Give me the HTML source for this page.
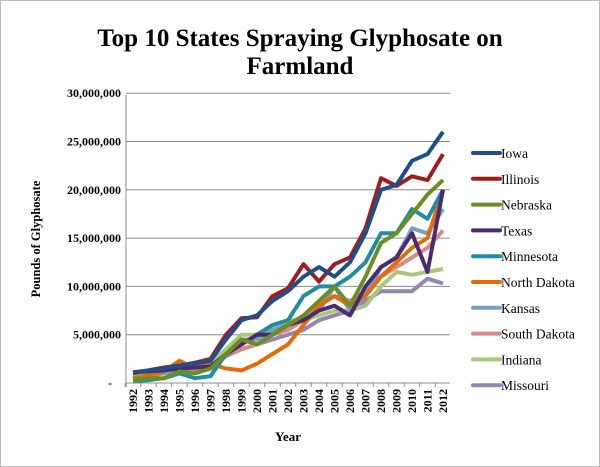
<!DOCTYPE html>
<html><head><meta charset="utf-8"><style>
body{margin:0;background:#fff;}
svg{display:block;font-family:"Liberation Serif",serif;}
</style></head><body>
<svg id="c" width="600" height="467" viewBox="0 0 600 467" xmlns="http://www.w3.org/2000/svg">
<rect x="0.5" y="0.5" width="599" height="466" fill="#fff" stroke="#bbb"/>
<text x="300" y="46" text-anchor="middle" font-size="25" font-weight="bold">Top 10 States Spraying Glyphosate on</text>
<text x="300" y="74" text-anchor="middle" font-size="25" font-weight="bold">Farmland</text>
<text transform="translate(40,239) rotate(-90)" text-anchor="middle" font-size="12.5" font-weight="bold">Pounds of Glyphosate</text>
<text x="288" y="441" text-anchor="middle" font-size="13" font-weight="bold">Year</text>
<g id="g"></g>
</svg>
<script>
var g=document.getElementById('g'),ns='http://www.w3.org/2000/svg',h='';
var y0=383,pp=48.3/5,x0=133,dx=15.5;
for(var i=0;i<=6;i++){var y=y0-i*48.3;
 if(i>0)h+='<line x1="126" x2="450" y1="'+y+'" y2="'+y+'" stroke="#8c8c8c" stroke-width="1"/>';
 var lab=i==0?'-':(i*5)+',000,000';
 h+='<text x="'+(i==0?112:121)+'" y="'+(y+4)+'" text-anchor="end" font-size="12" font-weight="bold">'+lab+'</text>';}
h+='<line x1="126" x2="126" y1="95" y2="387" stroke="#8c8c8c"/><line x1="126" x2="450" y1="383" y2="383" stroke="#8c8c8c"/>';
for(var k=0;k<21;k++){var x=x0+k*dx;
 h+='<line x1="'+(x-dx/2)+'" x2="'+(x-dx/2)+'" y1="383" y2="387" stroke="#8c8c8c"/>';
 h+='<text transform="translate('+(x+4)+',389) rotate(-90)" text-anchor="end" font-size="12" font-weight="bold">'+(1992+k)+'</text>';}
var S=[
['Iowa','#1f4e8c',[1.0,1.3,1.5,1.8,2.0,2.3,4.5,6.5,7.0,8.5,9.5,11,12,11,12.5,15.5,20,20.5,23,23.7,26]],
['Illinois','#a01d1d',[1.1,1.3,1.6,1.8,2.1,2.5,5,6.7,6.8,9,9.8,12.3,10.5,12.3,13,16,21.2,20.4,21.4,21,23.7]],
['Nebraska','#6a8e23',[0.3,0.5,0.5,1.2,1,1.5,3,4.5,4,5,6,7,8.5,10,8,11,14.5,15.5,17.5,19.5,21]],
['Texas','#4b2a6e',[1.1,1.2,1.3,1.5,1.6,1.7,3,4,5,5,6,6.5,7.5,8,7,10,12,13,15.5,11.5,20]],
['Minnesota','#1f8ea0',[0.2,0.3,0.5,1,0.5,0.7,3,4,5,6,6.5,9,10,10,11,12.5,15.5,15.5,18,17,20]],
['North Dakota','#e36c0a',[0.5,0.8,1.2,2.3,1.5,2,1.5,1.3,2,3,4,6,8,9,8,9,11,12.5,14,15,20]],
['Kansas','#7a9cc8',[0.5,0.7,1,1.3,1,1.5,3,4.5,4.5,5.5,6,6.5,7.5,10,7.5,9,12,13,16,15.5,18]],
['South Dakota','#d98a86',[0.5,0.7,1,1.5,1.3,1.7,3,3.5,4,5,5.5,6.5,8.5,9,8.5,9.5,11,12,13,14,15.8]],
['Indiana','#a8c97c',[0.7,1,1.2,1.5,1.5,2,3.5,5,5,5.5,6.5,6.5,7,7.5,7.5,8,10,11.5,11.2,11.5,11.8]],
['Missouri','#9385b4',[0.6,0.9,1.1,1.4,1.3,1.5,2.8,3.5,4,4.5,5,5.5,6.5,7,7.5,8.5,9.5,9.5,9.5,10.8,10.3]]];
for(var s=S.length-1;s>=0;s--){var p=S[s][2].map(function(v,k){return (x0+k*dx)+','+(y0-v*pp).toFixed(1)}).join(' ');
 h+='<polyline points="'+p+'" fill="none" stroke="'+S[s][1]+'" stroke-width="4" stroke-linejoin="round"/>';}
for(var s=0;s<S.length;s++){var y=153+s*25.8;
 h+='<line x1="473" x2="500" y1="'+y+'" y2="'+y+'" stroke="'+S[s][1]+'" stroke-width="4" stroke-linecap="round"/>';
 h+='<text x="501" y="'+(y+5)+'" font-size="13.5">'+S[s][0]+'</text>';}
g.innerHTML=h;
</script>
</body></html>
